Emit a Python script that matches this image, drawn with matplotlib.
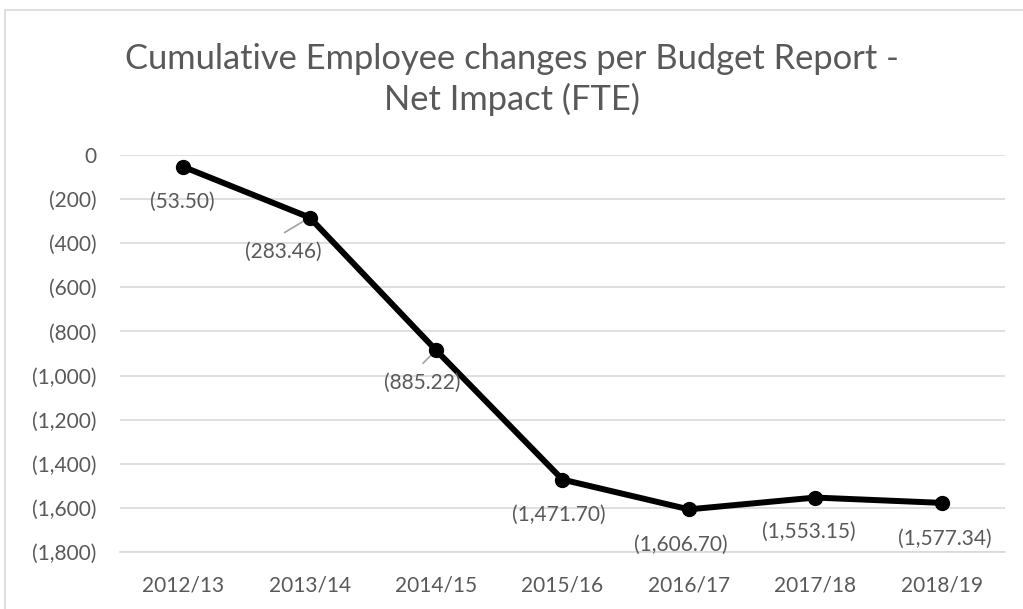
import matplotlib.pyplot as plt
from matplotlib.patches import Rectangle
from matplotlib.ticker import FuncFormatter, MultipleLocator

# data
years = ["2012/13", "2013/14", "2014/15", "2015/16", "2016/17", "2017/18", "2018/19"]
net_fte = [-53.50, -283.46, -885.22, -1471.70, -1606.70, -1553.15, -1577.34]
# label offsets in pixels (dx, dy) relative to each point, negative dy = below
label_dx = [-1, -26, -14, -4, -8, -7, 3]
label_dy = [-35, -34, -33, -35, -35, -34, -36]
# leader line start offsets (pixels), None = no leader line
leader = [None, (-25, -15), (-13, -13), None, None, None, None]

TEXT = "#595959"
GRID = "#d9d9d9"
PX = 0.72  # points per pixel at dpi 100

plt.rcParams["font.family"] = ["Lato", "DejaVu Sans"]


def paren_fmt(v, _pos=None):
    if abs(v) < 1e-9:
        return "0"
    if v < 0:
        return "({:,.0f})".format(-v)
    return "{:,.0f}".format(v)


fig = plt.figure(figsize=(10.23, 6.09), dpi=100)
ax = fig.add_axes([0.1173, 0.0936, 0.8651, 0.6519])

# outer chart border
fig.patches.append(Rectangle((5 / 1023, -0.01), 1.0, 1 - 10 / 609 + 0.01,
                             transform=fig.transFigure, fill=False,
                             edgecolor=GRID, linewidth=1.2))

x = list(range(len(years)))
ax.plot(x, net_fte, color="black", linewidth=4.3, marker="o",
        markersize=10, solid_capstyle="round", zorder=3)

for i, v in enumerate(net_fte):
    txt = "({:,.2f})".format(-v)
    ax.annotate(txt, (i, v), xytext=(label_dx[i] * PX, label_dy[i] * PX),
                textcoords="offset points", ha="center", va="center",
                fontsize=15, color=TEXT, zorder=4)
    if leader[i] is not None:
        lx, ly = leader[i]
        ax.annotate("", (i, v), xytext=(lx * PX, ly * PX),
                    textcoords="offset points",
                    arrowprops=dict(arrowstyle="-", color="#a6a6a6", lw=1.3,
                                    shrinkA=0, shrinkB=1), zorder=2)

ax.set_xlim(-0.5, len(years) - 0.5)
ax.set_ylim(-1800, 0)
ax.yaxis.set_major_locator(MultipleLocator(200))
ax.yaxis.set_major_formatter(FuncFormatter(paren_fmt))
ax.set_xticks(x)
ax.set_xticklabels(years)
ax.grid(axis="y", color=GRID, linewidth=1.2, zorder=0)
ax.set_axisbelow(True)
for s in ["top", "right", "left"]:
    ax.spines[s].set_visible(False)
ax.spines["bottom"].set_color(GRID)
ax.spines["bottom"].set_linewidth(1.2)
ax.tick_params(axis="both", length=0, labelsize=15, labelcolor=TEXT)
ax.tick_params(axis="y", pad=17)
ax.tick_params(axis="x", pad=17)

fig.text(0.5, 0.870, "Cumulative Employee changes per Budget Report -\nNet Impact (FTE)",
         ha="center", va="center", fontsize=24.8, color=TEXT, linespacing=1.3)

fig.savefig("out.png", dpi=100)
